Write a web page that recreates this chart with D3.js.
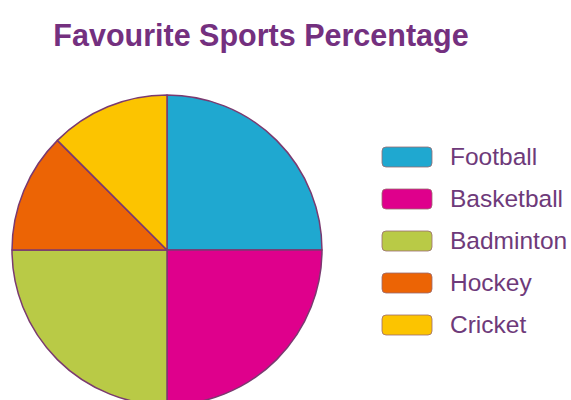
<!DOCTYPE html>
<html>
<head>
<meta charset="utf-8">
<script src="https://cdn.jsdelivr.net/npm/d3@7"></script>
<style>
  body { margin: 0; background: #fff; }
</style>
</head>
<body>
<div id="main"></div>
<script>
const sports = ["Football", "Basketball", "Badminton", "Hockey", "Cricket"];
const percents = [25, 25, 25, 12.5, 12.5];
const colors = ["#1fa8d0", "#df008c", "#b9ca46", "#ec6405", "#fcc400"];

const width = 571, height = 400;
const cx = 167, cy = 250, r = 155;

const svg = d3.select("#main").append("svg")
  .attr("width", width)
  .attr("height", height);

svg.append("text")
  .attr("x", 261)
  .attr("y", 46)
  .attr("text-anchor", "middle")
  .style("font-family", "Liberation Sans, Arial, sans-serif")
  .style("font-weight", "bold")
  .style("font-size", "30.5px")
  .style("fill", "#74307f")
  .text("Favourite Sports Percentage");

const data = sports.map((s, i) => ({ name: s, value: percents[i] }));
const color = d3.scaleOrdinal().domain(sports).range(colors);

const pie = d3.pie().value(d => d.value).sort(null);
const arc = d3.arc().innerRadius(0).outerRadius(r);

const g = svg.append("g").attr("transform", `translate(${cx},${cy})`);

g.selectAll("path")
  .data(pie(data))
  .join("path")
  .attr("d", arc)
  .attr("fill", d => color(d.data.name))
  .attr("stroke", "#7a3a70")
  .attr("stroke-width", 1.5)
  .attr("stroke-linejoin", "round");

// legend
const y = d3.scaleBand().domain(sports).range([147, 357]).paddingInner(0);

const leg = svg.append("g");
const rows = leg.selectAll("g")
  .data(sports)
  .join("g")
  .attr("transform", d => `translate(382,${y(d)})`);

rows.append("rect")
  .attr("width", 50)
  .attr("height", 20)
  .attr("rx", 4)
  .attr("fill", d => color(d))
  .attr("stroke", "#9a6a70")
  .attr("stroke-width", 0.8);

rows.append("text")
  .attr("x", 68)
  .attr("y", 18)
  .style("font-family", "Liberation Sans, Arial, sans-serif")
  .style("font-size", "24.5px")
  .style("fill", "#6e3a7a")
  .text(d => d);
</script>
</body>
</html>
